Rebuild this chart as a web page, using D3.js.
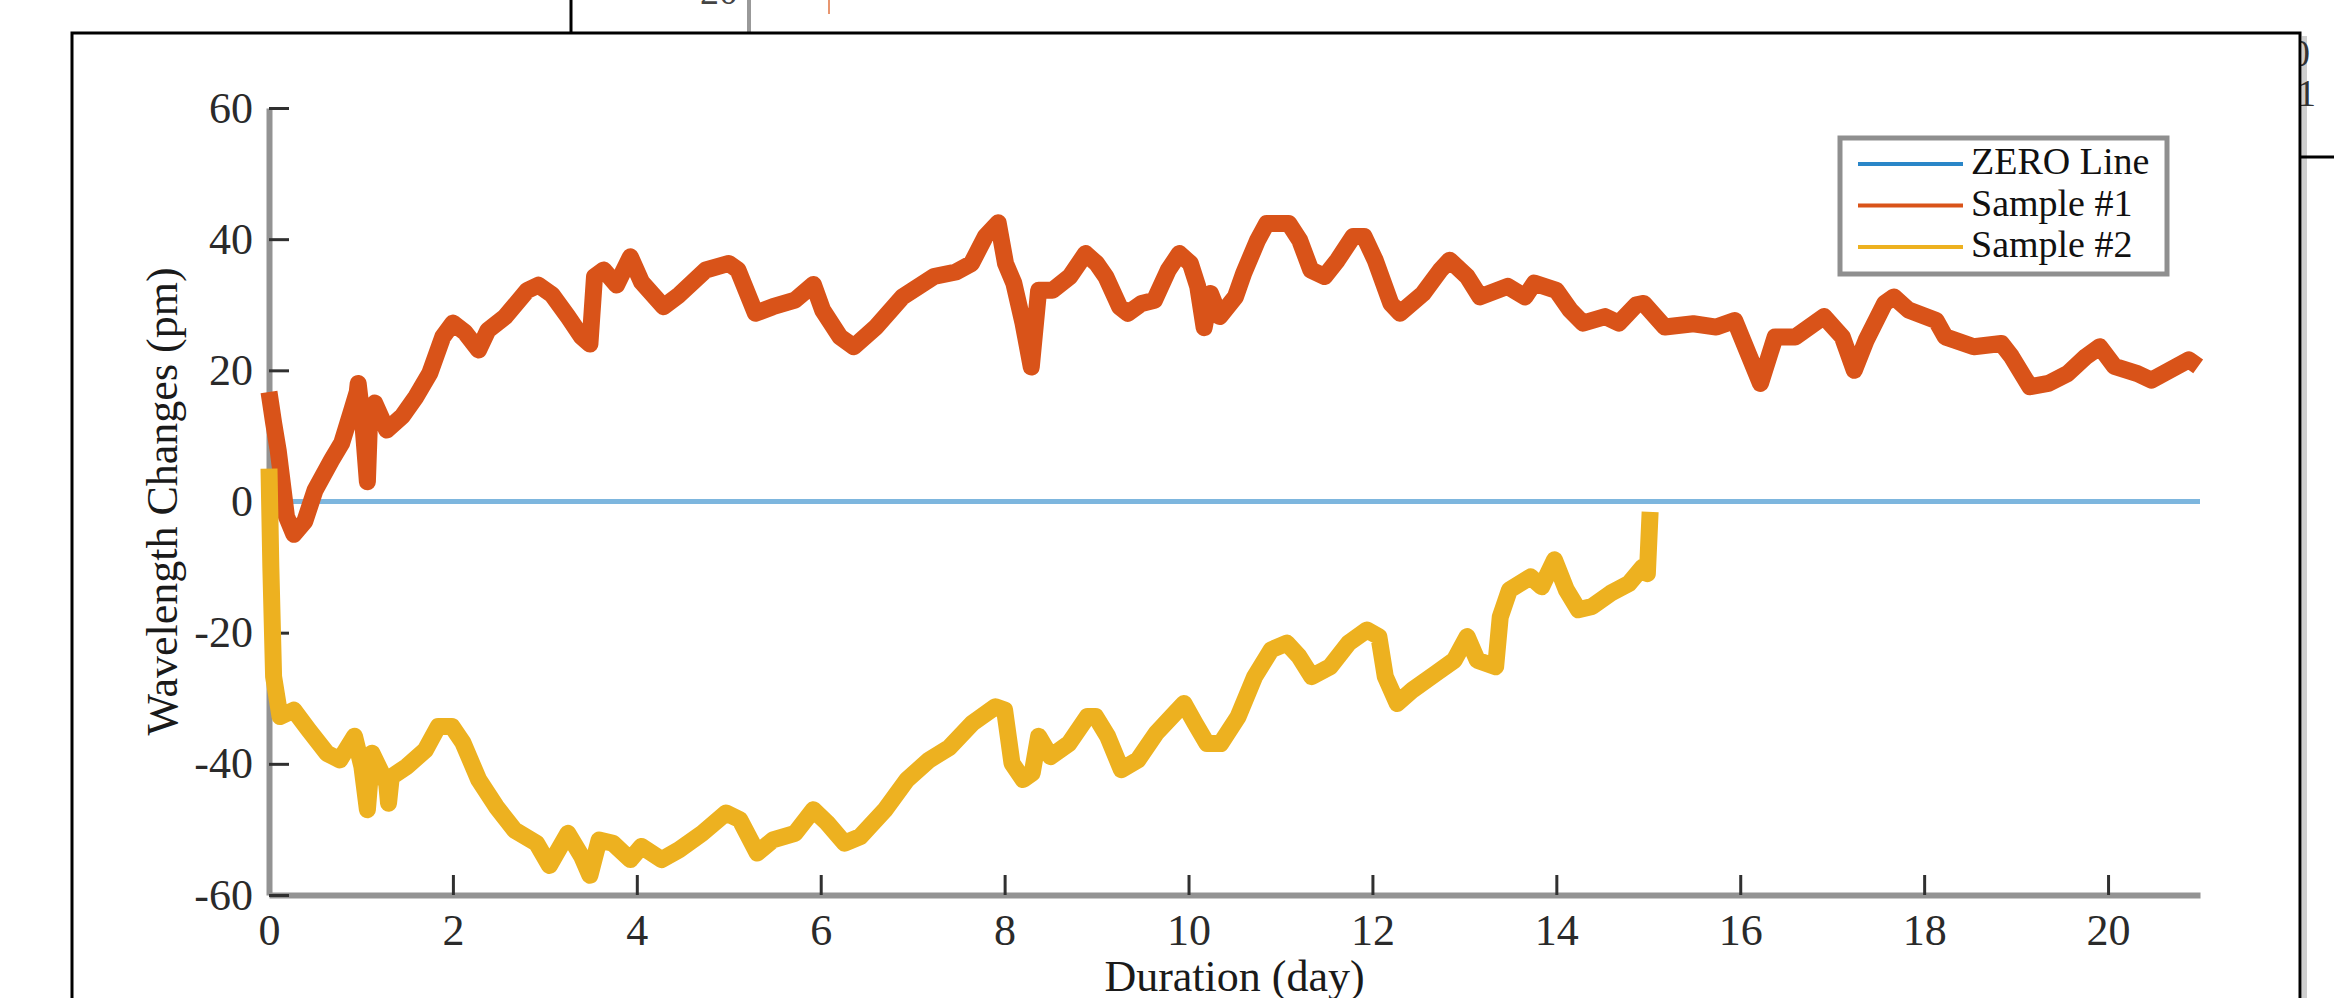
<!DOCTYPE html>
<html>
<head>
<meta charset="utf-8">
<script src="https://d3js.org/d3.v7.min.js"></script>
<style>
  html, body { margin: 0; padding: 0; background: #fff; }
  svg { display: block; }
  .tick text { font-family: 'Liberation Serif', 'Times New Roman', serif; }
</style>
</head>
<body>
<div id="chart"></div>
<script>
// data (day, wavelength change in pm)
const xTicks = [0, 2, 4, 6, 8, 10, 12, 14, 16, 18, 20]
const yTicks = [-60, -40, -20, 0, 20, 40, 60]
const seriesNames = ['ZERO Line', 'Sample #1', 'Sample #2']
const seriesColors = ['#7db6de', '#d95319', '#edb120']

const zeroDays = [0, 21]
const zeroValues = [0, 0]

const sample1Days = [0.00, 0.05, 0.10, 0.19, 0.27, 0.39, 0.50, 0.68, 0.79, 0.90, 0.96, 0.97, 1.02, 1.07, 1.09, 1.15,
  1.28, 1.45, 1.60, 1.75, 1.89, 2.00, 2.13, 2.28, 2.38, 2.57, 2.81, 2.93, 3.08, 3.25, 3.40, 3.49, 3.54, 3.64, 3.78,
  3.93, 4.05, 4.29, 4.46, 4.75, 5.00, 5.10, 5.29, 5.48, 5.72, 5.92, 6.02, 6.21, 6.36, 6.60, 6.89, 7.23, 7.47, 7.64,
  7.79, 7.93, 8.01, 8.10, 8.20, 8.29, 8.37, 8.52, 8.71, 8.88, 9.00, 9.10, 9.25, 9.34, 9.49, 9.63, 9.78, 9.90, 10.02,
  10.10, 10.17, 10.24, 10.34, 10.51, 10.60, 10.75, 10.85, 11.09, 11.21, 11.33, 11.48, 11.62, 11.79, 11.91, 12.03,
  12.20, 12.30, 12.55, 12.74, 12.84, 13.03, 13.17, 13.47, 13.66, 13.76, 14.00, 14.15, 14.29, 14.53, 14.68, 14.87,
  14.95, 15.18, 15.49, 15.74, 15.94, 16.10, 16.22, 16.38, 16.60, 16.91, 17.11, 17.24, 17.37, 17.57, 17.67, 17.83,
  18.13, 18.23, 18.54, 18.84, 18.95, 19.15, 19.35, 19.56, 19.76, 19.91, 20.07, 20.32, 20.47, 20.67, 20.88, 20.98]
const sample1Values = [16.7, 12.0, 7.8, -2.3, -5.0, -3.0, 1.7, 6.3, 8.9, 13.9, 16.7, 18.0, 12.0, 3.0, 11.0, 15.0,
  10.9, 13.0, 16.0, 19.6, 25.1, 27.2, 25.8, 23.1, 26.1, 28.2, 32.2, 33.0, 31.5, 28.2, 25.1, 24.0, 34.3, 35.3, 33.0,
  37.3, 33.5, 29.7, 31.5, 35.3, 36.3, 35.3, 28.7, 29.7, 30.7, 33.1, 29.2, 25.1, 23.6, 26.6, 31.2, 34.3, 35.0, 36.3,
  40.4, 42.5, 36.3, 33.3, 27.2, 20.5, 32.2, 32.2, 34.3, 37.8, 36.3, 34.3, 29.7, 28.7, 30.2, 30.7, 35.3, 37.8, 36.3,
  32.8, 26.5, 31.7, 28.2, 31.2, 34.8, 39.8, 42.4, 42.4, 39.8, 35.3, 34.3, 36.8, 40.4, 40.4, 36.8,
  30.2, 28.7, 31.7, 35.3, 36.8, 34.3, 31.2, 32.8, 31.2, 33.3, 32.2, 29.2, 27.2, 28.2, 27.2, 30.0,
  30.2, 26.6, 27.1, 26.6, 27.6, 22.1, 18.0, 25.1, 25.1, 28.2, 25.1, 20.0, 24.6, 30.2, 31.2, 29.2,
  27.6, 25.1, 23.6, 24.1, 22.1, 17.5, 18.0, 19.5, 22.1, 23.6, 20.6, 19.5, 18.5, 20.0, 21.6, 20.6]

const sample2Days = [0.00, 0.02, 0.05, 0.12, 0.27, 0.43, 0.63, 0.77, 0.93, 1.01, 1.07, 1.12, 1.28, 1.30, 1.33, 1.50,
  1.70, 1.84, 1.99, 2.11, 2.28, 2.47, 2.67, 2.91, 3.05, 3.25, 3.40, 3.49, 3.59, 3.74, 3.93, 4.05, 4.27, 4.46, 4.71,
  4.97, 5.12, 5.31, 5.48, 5.72, 5.92, 6.07, 6.26, 6.43, 6.70, 6.94, 7.18, 7.40, 7.65, 7.90, 8.00, 8.08, 8.20, 8.30,
  8.37, 8.50, 8.70, 8.90, 8.99, 9.12, 9.27, 9.45, 9.65, 9.85, 9.95, 10.07, 10.20, 10.35, 10.54, 10.72, 10.90, 11.07,
  11.20, 11.34, 11.54, 11.74, 11.94, 12.07, 12.14, 12.27, 12.44, 12.69, 12.89, 13.03, 13.14, 13.34, 13.39, 13.49,
  13.72, 13.84, 13.98, 14.11, 14.24, 14.39, 14.59, 14.79, 14.94, 14.99, 15.02]
const sample2Values = [5.0, -10.0, -26.7, -32.8, -31.8, -34.8, -38.4, -39.4, -35.8, -40.4, -47.0, -38.4, -43.0, -46.0, -42.0, -40.4,
  -37.9, -34.3, -34.3, -36.8, -42.4, -46.5, -50.1, -52.1, -55.5, -50.6, -54.1, -57.0, -51.6, -52.1, -54.6, -52.6, -54.6, -53.1, -50.6,
  -47.5, -48.5, -53.6, -51.6, -50.6, -47.0, -49.0, -52.1, -51.1, -47.0, -42.4, -39.4, -37.5, -33.8, -31.3, -31.8, -39.9, -42.4, -41.4,
  -35.8, -38.9, -36.9, -32.8, -32.8, -35.8, -40.9, -39.4, -35.3, -32.3, -30.8, -33.8, -36.9, -36.9, -32.8, -26.7, -22.6, -21.6,
  -23.6, -26.7, -25.2, -21.6, -19.6, -20.6, -26.7, -30.8, -28.7, -26.2, -24.2, -20.6, -24.2, -25.2, -17.6, -13.5,
  -11.5, -13.0, -8.9, -13.5, -16.5, -16.0, -14.0, -12.5, -10.0, -11.0, -1.6]

const W = 2334, H = 998
const plot = { left: 269, right: 2200, top: 108, bottom: 895 }
const font = "'Liberation Serif', 'Times New Roman', serif"

const svg = d3.select('#chart')
  .append('svg')
  .attr('width', W)
  .attr('height', H)

// faint shadow on the right of the frame
svg.append('rect')
  .attr('x', 2302).attr('y', 36).attr('width', 5).attr('height', H)
  .attr('fill', '#cfcfcf')

// bits of the neighbouring figures that show around the frame
const bg = svg.append('g')
bg.append('line').attr('x1', 571).attr('x2', 571).attr('y1', 0).attr('y2', 34)
  .attr('stroke', '#000').attr('stroke-width', 3)
bg.append('line').attr('x1', 749).attr('x2', 749).attr('y1', 0).attr('y2', 34)
  .attr('stroke', '#999').attr('stroke-width', 4)
bg.append('line').attr('x1', 829).attr('x2', 829).attr('y1', 0).attr('y2', 14)
  .attr('stroke', '#e89670').attr('stroke-width', 2)
bg.append('text').attr('x', 738).attr('y', 4).attr('text-anchor', 'end')
  .style('font-family', font).style('font-size', '38px').attr('fill', '#444').text('20')
bg.append('line').attr('x1', 2300).attr('x2', W).attr('y1', 157).attr('y2', 157)
  .attr('stroke', '#000').attr('stroke-width', 3)
bg.append('text').attr('x', 2310).attr('y', 66).attr('text-anchor', 'end')
  .style('font-family', font).style('font-size', '38px').attr('fill', '#333').text('0')
bg.append('text').attr('x', 2316).attr('y', 106).attr('text-anchor', 'end')
  .style('font-family', font).style('font-size', '38px').attr('fill', '#333').text('1')

// figure frame
svg.append('rect')
  .attr('x', 72).attr('y', 33).attr('width', 2228).attr('height', H)
  .attr('fill', '#fff').attr('stroke', '#000').attr('stroke-width', 3)

const x = d3.scaleLinear().domain([0, 21]).range([plot.left, plot.right])
const y = d3.scaleLinear().domain([-60, 60]).range([plot.bottom, plot.top])

// axes: gray spine, dark ticks pointing inwards
const xAxis = svg.append('g')
  .attr('transform', 'translate(0,' + plot.bottom + ')')
  .call(d3.axisBottom(x).tickValues(xTicks).tickFormat(d => String(d))
    .tickSizeInner(-20).tickSizeOuter(0).tickPadding(19))
const yAxis = svg.append('g')
  .attr('transform', 'translate(' + plot.left + ',0)')
  .call(d3.axisLeft(y).tickValues(yTicks).tickFormat(d => String(d))
    .tickSizeInner(-20).tickSizeOuter(0).tickPadding(16))

for (const ax of [xAxis, yAxis]) {
  ax.select('.domain').attr('stroke', '#939393').attr('stroke-width', 6)
  ax.selectAll('.tick line').attr('stroke', '#303030').attr('stroke-width', 3)
  ax.selectAll('.tick text')
    .style('font-size', '44px')
    .attr('fill', '#2a2a2a')
}

// axis labels
svg.append('text')
  .attr('x', (plot.left + plot.right) / 2)
  .attr('y', 991)
  .attr('text-anchor', 'middle')
  .style('font-family', font).style('font-size', '44px')
  .attr('fill', '#1a1a1a')
  .text('Duration (day)')

svg.append('text')
  .attr('transform', 'translate(177,' + y(0) + ') rotate(-90)')
  .attr('text-anchor', 'middle')
  .style('font-family', font).style('font-size', '44px')
  .attr('fill', '#1a1a1a')
  .text('Wavelength Changes (pm)')

// lines
const line = d3.line()
  .x(d => x(d[0]))
  .y(d => y(d[1]))

function drawSeries(days, values, color, width) {
  svg.append('path')
    .datum(d3.zip(days, values))
    .attr('fill', 'none')
    .attr('stroke', color)
    .attr('stroke-width', width)
    .attr('stroke-linejoin', 'round')
    .attr('d', line)
}

drawSeries(zeroDays, zeroValues, seriesColors[0], 5)
drawSeries(sample1Days, sample1Values, seriesColors[1], 17)
drawSeries(sample2Days, sample2Values, seriesColors[2], 17)

// legend
const legend = svg.append('g')
  .attr('transform', 'translate(1840,138)')

legend.append('rect')
  .attr('width', 327)
  .attr('height', 136)
  .attr('fill', '#fff')
  .attr('stroke', '#8f8f8f')
  .attr('stroke-width', 5)

const legendColors = ['#2a86c8', seriesColors[1], seriesColors[2]]
seriesNames.forEach((name, i) => {
  const yy = 26 + i * 41.5
  legend.append('line')
    .attr('x1', 18).attr('x2', 123)
    .attr('y1', yy).attr('y2', yy)
    .attr('stroke', legendColors[i])
    .attr('stroke-width', 4)
  legend.append('text')
    .attr('x', 131)
    .attr('y', yy + 10)
    .style('font-family', font).style('font-size', '38px')
    .attr('fill', '#111')
    .text(name)
})
</script>
</body>
</html>
